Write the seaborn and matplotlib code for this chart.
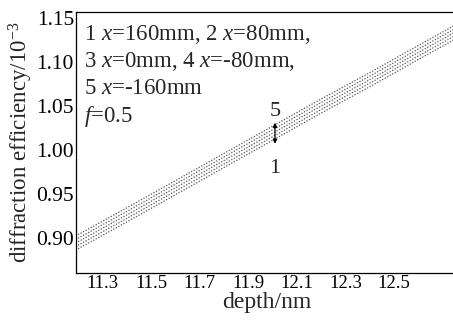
import matplotlib
matplotlib.use("Agg")
import matplotlib.pyplot as plt
import seaborn as sns
import pandas as pd

depth = [11.20, 11.40, 11.60, 11.80, 12.00, 12.20, 12.40, 12.60, 12.77]
eff_1 = [0.8875, 0.9180, 0.9490, 0.9800, 1.0110, 1.0420, 1.0720, 1.1030, 1.1290]
eff_2 = [0.8915, 0.9220, 0.9530, 0.9840, 1.0150, 1.0460, 1.0760, 1.1070, 1.1330]
eff_3 = [0.8955, 0.9260, 0.9570, 0.9880, 1.0190, 1.0500, 1.0800, 1.1110, 1.1370]
eff_4 = [0.8995, 0.9300, 0.9610, 0.9920, 1.0230, 1.0540, 1.0840, 1.1150, 1.1410]
eff_5 = [0.9035, 0.9340, 0.9650, 0.9960, 1.0270, 1.0580, 1.0880, 1.1190, 1.1450]
series_names = ["1", "2", "3", "4", "5"]
xticks = [11.3, 11.5, 11.7, 11.9, 12.1, 12.3, 12.5]
yticks = [0.90, 0.95, 1.00, 1.05, 1.10, 1.15]
legend_lines = ["1 $x$=160mm, 2 $x$=80mm,",
                "3 $x$=0mm, 4 $x$=-80mm,",
                "5 $x$=-160mm",
                "$f$=0.5"]

sns.set_style("white")
plt.rcParams["font.family"] = ["Liberation Serif", "DejaVu Serif"]
plt.rcParams["mathtext.fontset"] = "custom"
plt.rcParams["mathtext.rm"] = "Liberation Serif"
plt.rcParams["mathtext.it"] = "Liberation Serif:italic"

rows = []
for name, vals in zip(series_names, [eff_1, eff_2, eff_3, eff_4, eff_5]):
    for d, v in zip(depth, vals):
        rows.append({"depth": d, "eff": v, "series": name})
df = pd.DataFrame(rows)

fig = plt.figure(figsize=(4.53, 3.2), dpi=100)
ax = fig.add_axes([0.168, 0.147, 0.84, 0.8155])

sns.lineplot(data=df, x="depth", y="eff", hue="series",
             palette=["#555555"] * 5, legend=False, ax=ax,
             linewidth=0.9)
for ln in ax.lines:
    ln.set_linestyle((0, (1, 1.3)))

ax.set_xlim(11.192, 12.757)
ax.set_ylim(0.860, 1.157)
ax.set_xticks(xticks)
ax.set_xticklabels([f"{t:.1f}" for t in xticks], fontsize=13.5)
ax.set_yticks(yticks)
ax.set_yticklabels([f"{t:.2f}" for t in yticks], fontsize=15.5)
ax.tick_params(axis="both", direction="in", length=3, width=0.8, pad=1.5, colors="black")
ax.set_xlabel("depth/nm", fontsize=17, labelpad=0)
ax.set_ylabel("diffraction efficiency/10$^{-3}$", fontsize=16.5, labelpad=1)

for s in ["left", "bottom", "top"]:
    ax.spines[s].set_visible(True)
    ax.spines[s].set_color("black")
    ax.spines[s].set_linewidth(0.9)
ax.spines["right"].set_visible(False)

for i, t in enumerate(legend_lines):
    ax.text(0.02, 0.915 - i * 0.105, t, transform=ax.transAxes,
            fontsize=16.5, va="center", ha="left")

ax.annotate("", xy=(12.01, 1.007), xytext=(12.01, 1.031),
            arrowprops=dict(arrowstyle="<|-|>", color="black", lw=0.9,
                            mutation_scale=6, shrinkA=0, shrinkB=0))
ax.text(12.01, 1.044, "5", fontsize=16, ha="center", va="center")
ax.text(12.01, 0.979, "1", fontsize=16, ha="center", va="center")

fig.savefig("out.png", dpi=100)
